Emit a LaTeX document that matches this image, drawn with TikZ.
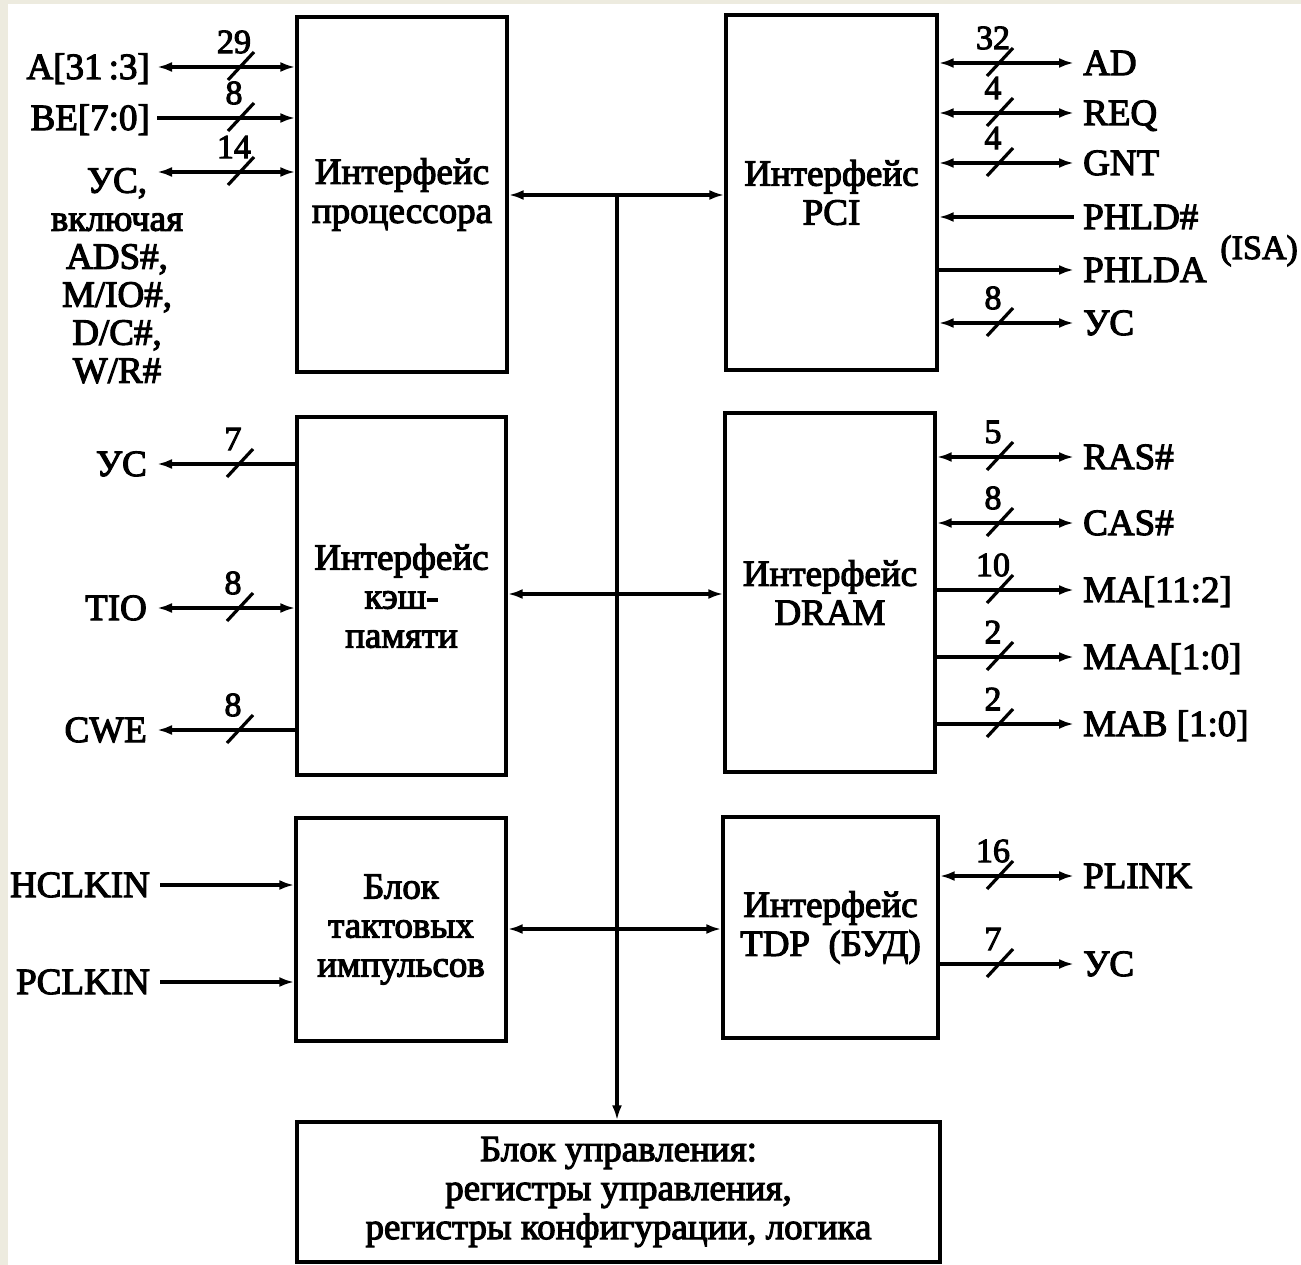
\documentclass[tikz,border=0pt]{standalone}
\usepackage{fontspec}
\newfontfamily\dfont{Liberation Serif}[FakeBold=3]
\newcommand\bfont{\dfont\fontsize{37}{39}\selectfont}
\newcommand\nfont{\dfont\fontsize{34}{34}\selectfont}
\usetikzlibrary{arrows.meta}
\definecolor{bgbeige}{HTML}{EDEBDF}
\begin{document}
\begin{tikzpicture}[x=1pt,y=-1pt,
  box/.style={draw, line width=3.4pt, inner sep=0pt, align=center, font=\bfont},
  sig/.style={line width=3.2pt, >={Latex[length=15pt,width=10pt]}},
  lbl/.style={inner sep=0pt, font=\bfont},
  num/.style={inner sep=0pt, font=\nfont},
  busmark/.pic={\draw[line width=3.2pt] (-13,13) -- (13,-15); \node[num] at (-7,-25) {#1};}
]
\useasboundingbox (0,0) rectangle (1301,1265);
\fill[bgbeige] (0,0) rectangle (1301,1265);
\fill[white] (8,4) rectangle (1301,1265);

% boxes
\node[box, minimum width=210pt, minimum height=355pt] (proc) at (402,194.5) {Интерфейс\\процессора};
\node[box, minimum width=211pt, minimum height=355pt] (pci) at (831.5,192.5) {Интерфейс\\PCI};
\node[box, minimum width=209pt, minimum height=358pt] (cache) at (401.5,596) {Интерфейс\\кэш-\\памяти};
\node[box, minimum width=210pt, minimum height=359pt] (dram) at (830,592.5) {Интерфейс\\DRAM};
\node[box, minimum width=210pt, minimum height=223pt] (clock) at (401,929.5) {Блок\\тактовых\\импульсов};
\node[box, minimum width=215pt, minimum height=221pt] (tdp) at (830.5,927.5) {Интерфейс\\TDP\ \ (БУД)};
\node[box, minimum width=643pt, minimum height=140pt] (ctrl) at (618.5,1192) {Блок управления:\\регистры управления,\\регистры конфигурации, логика};

% internal connections
\coordinate (busTop) at (617,195);
\draw[sig,<->] (proc.east |- busTop) -- (pci.west |- busTop);
\draw[sig,->] (busTop) -- (busTop |- ctrl.north);
\coordinate (cdY) at (617,594);
\draw[sig,<->] (cache.east |- cdY) -- (dram.west |- cdY);
\coordinate (ctY) at (617,929);
\draw[sig,<->] (clock.east |- ctY) -- (tdp.west |- ctY);

% processor left signals
\node[lbl, anchor=base east] (lA) at (150,79) {A[31\,:3]};
\coordinate (pA) at (157,67);
\draw[sig,<->] (pA) -- (pA -| proc.west);
\pic at (241,67) {busmark=29};

\node[lbl, anchor=base east] (lBE) at (150,130) {BE[7:0]};
\coordinate (pBE) at (157,118);
\draw[sig,->] (pBE) -- (pBE -| proc.west);
\pic at (241,118) {busmark=8};

\node[lbl, anchor=north, align=center, font=\dfont\fontsize{37}{38}\selectfont] (lUC1) at (117,168) {УС,\\включая\\ADS\#,\\M/IO\#,\\D/C\#,\\W/R\#};
\coordinate (pUC1) at (157,172);
\draw[sig,<->] (pUC1) -- (pUC1 -| proc.west);
\pic at (241,172) {busmark=14};

% cache left signals
\node[lbl, anchor=base east] (lUC2) at (147,476) {УС};
\coordinate (pUC2) at (157,464);
\draw[sig,<-] (pUC2) -- (pUC2 -| cache.west);
\pic at (240,464) {busmark=7};

\node[lbl, anchor=base east] (lTIO) at (147,620) {TIO};
\coordinate (pTIO) at (157,608);
\draw[sig,<->] (pTIO) -- (pTIO -| cache.west);
\pic at (240,608) {busmark=8};

\node[lbl, anchor=base east] (lCWE) at (147,742) {CWE};
\coordinate (pCWE) at (157,730);
\draw[sig,<-] (pCWE) -- (pCWE -| cache.west);
\pic at (240,730) {busmark=8};

% clock inputs
\node[lbl, anchor=base east] (lHC) at (150,897) {HCLKIN};
\coordinate (pHC) at (160,885);
\draw[sig,->] (pHC) -- (pHC -| clock.west);
\node[lbl, anchor=base east] (lPC) at (150,994) {PCLKIN};
\coordinate (pPC) at (160,982);
\draw[sig,->] (pPC) -- (pPC -| clock.west);

% PCI right signals
\node[lbl, anchor=base west] (lAD) at (1083,75) {AD};
\coordinate (qAD) at (1074,63);
\draw[sig,<->] (qAD -| pci.east) -- (qAD);
\pic at (1000,63) {busmark=32};

\node[lbl, anchor=base west] (lREQ) at (1083,125) {REQ};
\coordinate (qREQ) at (1074,113);
\draw[sig,<->] (qREQ -| pci.east) -- (qREQ);
\pic at (1000,113) {busmark=4};

\node[lbl, anchor=base west] (lGNT) at (1083,175) {GNT};
\coordinate (qGNT) at (1074,163);
\draw[sig,<->] (qGNT -| pci.east) -- (qGNT);
\pic at (1000,163) {busmark=4};

\node[lbl, anchor=base west] (lPH) at (1083,229) {PHLD\#};
\coordinate (qPH) at (1074,217);
\draw[sig,<-] (qPH -| pci.east) -- (qPH);

\node[lbl, anchor=base west] (lPHA) at (1083,282) {PHLDA};
\coordinate (qPHA) at (1074,270);
\draw[sig,->] (qPHA -| pci.east) -- (qPHA);

\node[lbl, anchor=base east, font=\dfont\fontsize{34}{34}\selectfont] (lISA) at (1298,259) {(ISA)};

\node[lbl, anchor=base west] (lUC3) at (1083,335) {УС};
\coordinate (qUC3) at (1074,323);
\draw[sig,<->] (qUC3 -| pci.east) -- (qUC3);
\pic at (1000,323) {busmark=8};

% DRAM right signals
\node[lbl, anchor=base west] (lRAS) at (1083,469) {RAS\#};
\coordinate (qRAS) at (1074,457);
\draw[sig,<->] (qRAS -| dram.east) -- (qRAS);
\pic at (1000,457) {busmark=5};

\node[lbl, anchor=base west] (lCAS) at (1083,535) {CAS\#};
\coordinate (qCAS) at (1074,523);
\draw[sig,<->] (qCAS -| dram.east) -- (qCAS);
\pic at (1000,523) {busmark=8};

\node[lbl, anchor=base west] (lMA) at (1083,602) {MA[11:2]};
\coordinate (qMA) at (1074,590);
\draw[sig,->] (qMA -| dram.east) -- (qMA);
\pic at (1000,590) {busmark=10};

\node[lbl, anchor=base west] (lMAA) at (1083,669) {MAA[1:0]};
\coordinate (qMAA) at (1074,657);
\draw[sig,->] (qMAA -| dram.east) -- (qMAA);
\pic at (1000,657) {busmark=2};

\node[lbl, anchor=base west] (lMAB) at (1083,736) {MAB [1:0]};
\coordinate (qMAB) at (1074,724);
\draw[sig,->] (qMAB -| dram.east) -- (qMAB);
\pic at (1000,724) {busmark=2};

% TDP right signals
\node[lbl, anchor=base west] (lPL) at (1083,888) {PLINK};
\coordinate (qPL) at (1074,876);
\draw[sig,<->] (qPL -| tdp.east) -- (qPL);
\pic at (1000,876) {busmark=16};

\node[lbl, anchor=base west] (lUC4) at (1083,976) {УС};
\coordinate (qUC4) at (1074,964);
\draw[sig,->] (qUC4 -| tdp.east) -- (qUC4);
\pic at (1000,964) {busmark=7};
\end{tikzpicture}
\end{document}
